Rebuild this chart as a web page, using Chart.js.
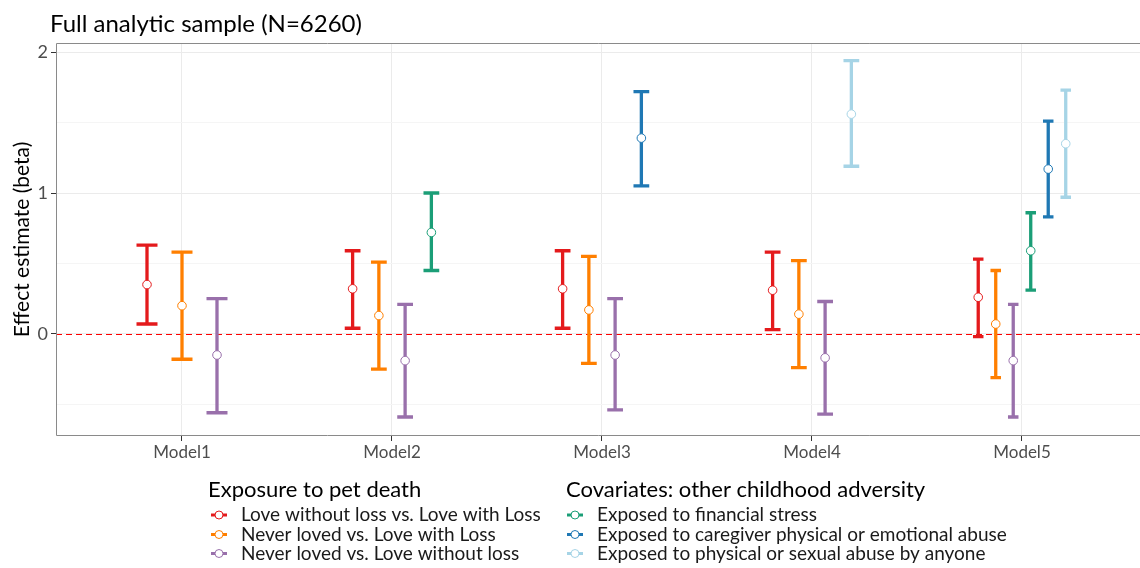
<!DOCTYPE html>
<html>
<head>
<meta charset="utf-8">
<script src="https://cdn.jsdelivr.net/npm/chart.js@4"></script>
<style>
  html, body { margin: 0; padding: 0; background: #fff; overflow: hidden; }
  #wrap { width: 1140px; height: 568px; }
  canvas { display: block; }
</style>
</head>
<body>
<div id="wrap"><canvas id="chart" width="1140" height="568"></canvas></div>
<script>
const models = ["Model1", "Model2", "Model3", "Model4", "Model5"];
const yMajorTicks = [0, 1, 2];
const yMinorTicks = [-0.5, 0.5, 1.5];

// exposure to pet death
const loveNoLossEst = [0.35, 0.32, 0.32, 0.31, 0.26];
const loveNoLossLow = [0.07, 0.04, 0.04, 0.03, -0.02];
const loveNoLossHigh = [0.63, 0.59, 0.59, 0.58, 0.53];
const neverVsLossEst = [0.20, 0.13, 0.17, 0.14, 0.07];
const neverVsLossLow = [-0.18, -0.25, -0.21, -0.24, -0.31];
const neverVsLossHigh = [0.58, 0.51, 0.55, 0.52, 0.45];
const neverVsNoLossEst = [-0.15, -0.19, -0.15, -0.17, -0.19];
const neverVsNoLossLow = [-0.56, -0.59, -0.54, -0.57, -0.59];
const neverVsNoLossHigh = [0.25, 0.21, 0.25, 0.23, 0.21];

// covariates: other childhood adversity
const financialEst = [null, 0.72, null, null, 0.59];
const financialLow = [null, 0.45, null, null, 0.31];
const financialHigh = [null, 1.00, null, null, 0.86];
const caregiverEst = [null, null, 1.39, null, 1.17];
const caregiverLow = [null, null, 1.05, null, 0.83];
const caregiverHigh = [null, null, 1.72, null, 1.51];
const anyoneEst = [null, null, null, 1.56, 1.35];
const anyoneLow = [null, null, null, 1.19, 0.97];
const anyoneHigh = [null, null, null, 1.94, 1.73];

const series = [
  { label: "Love without loss vs. Love with Loss", color: "#E41A1C", group: 0, est: loveNoLossEst, low: loveNoLossLow, high: loveNoLossHigh },
  { label: "Never loved vs. Love with Loss", color: "#FF7F00", group: 0, est: neverVsLossEst, low: neverVsLossLow, high: neverVsLossHigh },
  { label: "Never loved vs. Love without loss", color: "#9970AB", group: 0, est: neverVsNoLossEst, low: neverVsNoLossLow, high: neverVsNoLossHigh },
  { label: "Exposed to financial stress", color: "#1B9E77", group: 1, est: financialEst, low: financialLow, high: financialHigh },
  { label: "Exposed to caregiver physical or emotional abuse", color: "#1F78B4", group: 1, est: caregiverEst, low: caregiverLow, high: caregiverHigh },
  { label: "Exposed to physical or sexual abuse by anyone", color: "#A6D4E6", group: 1, est: anyoneEst, low: anyoneLow, high: anyoneHigh }
];
const groupTitles = ["Exposure to pet death", "Covariates: other childhood adversity"];

// dodge like ggplot: total width 0.5 shared by the series present in each model
const dodgeWidth = 0.5;
const capWidth = 0.3;
series.forEach(s => s.points = []);
models.forEach((m, i) => {
  const present = series.filter(s => s.est[i] !== null);
  const n = present.length;
  present.forEach((s, k) => {
    s.points.push({
      x: i + 1 + (k - (n - 1) / 2) * dodgeWidth / n,
      y: s.est[i], low: s.low[i], high: s.high[i], cap: capWidth / n
    });
  });
});

const FONT = "Lato, 'DejaVu Sans', sans-serif";

const errorBars = {
  id: "errorBars",
  beforeDatasetsDraw(chart) {
    const { ctx, chartArea, scales: { x, y } } = chart;
    ctx.save();
    // dashed reference line at 0
    const y0 = Math.round(y.getPixelForValue(0)) + 0.5;
    ctx.strokeStyle = "#FF0000";
    ctx.lineWidth = 1.1;
    ctx.setLineDash([6, 4]);
    ctx.beginPath();
    ctx.moveTo(chartArea.left, y0);
    ctx.lineTo(chartArea.right, y0);
    ctx.stroke();
    ctx.setLineDash([]);

    chart.data.datasets.forEach(ds => {
      ctx.strokeStyle = ds.borderColor;
      ctx.lineWidth = 3.3;
      ds.data.forEach(p => {
        const px = x.getPixelForValue(p.x);
        const hw = x.getPixelForValue(p.x + p.cap / 2) - px;
        const top = y.getPixelForValue(p.high);
        const bot = y.getPixelForValue(p.low);
        ctx.beginPath();
        ctx.moveTo(px, top); ctx.lineTo(px, bot);
        ctx.moveTo(px - hw, top); ctx.lineTo(px + hw, top);
        ctx.moveTo(px - hw, bot); ctx.lineTo(px + hw, bot);
        ctx.stroke();
      });
    });
    ctx.restore();
  },
  afterDraw(chart) {
    const { ctx, chartArea } = chart;
    ctx.save();
    // panel border (right side is cut off in the original)
    ctx.strokeStyle = "#8a8a8a";
    ctx.lineWidth = 1;
    ctx.beginPath();
    ctx.moveTo(chartArea.right, chartArea.top + 0.5);
    ctx.lineTo(chartArea.left + 0.5, chartArea.top + 0.5);
    ctx.lineTo(chartArea.left + 0.5, chartArea.bottom - 0.5);
    ctx.lineTo(chartArea.right, chartArea.bottom - 0.5);
    ctx.stroke();

    // title
    ctx.fillStyle = "#000";
    ctx.font = "24px " + FONT;
    ctx.textBaseline = "alphabetic";
    ctx.fillText("Full analytic sample (N=6260)", 50, 32);

    // legend, two titled groups
    const groupX = [208, 566];
    const keyX = [219, 575];
    const textX = [241, 597];
    const rowY = [515, 534.5, 553.5];
    groupTitles.forEach((t, g) => {
      ctx.fillStyle = "#000";
      ctx.font = "22px " + FONT;
      ctx.textBaseline = "alphabetic";
      ctx.fillText(t, groupX[g], 497);
      series.filter(s => s.group === g).forEach((s, r) => {
        const kx = keyX[g], ky = rowY[r];
        ctx.strokeStyle = s.color;
        ctx.lineWidth = 3;
        ctx.beginPath();
        ctx.moveTo(kx - 8, ky); ctx.lineTo(kx + 8, ky);
        ctx.stroke();
        ctx.beginPath();
        ctx.arc(kx, ky, 4, 0, Math.PI * 2);
        ctx.fillStyle = "#fff";
        ctx.fill();
        ctx.lineWidth = 1;
        ctx.stroke();
        ctx.fillStyle = "#1a1a1a";
        ctx.font = "19px " + FONT;
        ctx.textBaseline = "middle";
        ctx.fillText(s.label, textX[g], ky);
      });
    });
    ctx.restore();
  }
};

new Chart(document.getElementById("chart"), {
  type: "scatter",
  data: {
    datasets: series.map(s => ({
      label: s.label,
      data: s.points,
      borderColor: s.color,
      backgroundColor: "#fff",
      pointRadius: 4.3,
      pointHoverRadius: 4.3,
      pointBorderWidth: 1
    }))
  },
  options: {
    responsive: false,
    devicePixelRatio: 1,
    animation: false,
    layout: { autoPadding: false, padding: { top: 43, bottom: 98, left: 0, right: 0 } },
    plugins: { legend: { display: false }, tooltip: { enabled: false } },
    scales: {
      x: {
        type: "linear",
        min: 0.4,
        max: 5.562,
        afterBuildTicks: s => { s.ticks = models.map((m, i) => ({ value: i + 1 })); },
        afterFit: s => { s.height = 34; s.paddingLeft = 0; s.paddingRight = 0; },
        ticks: {
          callback: v => models[v - 1],
          font: { family: FONT, size: 17 },
          color: "#4d4d4d",
          padding: 1,
          maxRotation: 0
        },
        grid: { color: "#ebebeb", tickColor: "#333", tickLength: 5 },
        border: { display: false }
      },
      y: {
        min: -0.725,
        max: 2.065,
        afterBuildTicks: s => {
          s.ticks = [...yMinorTicks, ...yMajorTicks].sort((a, b) => a - b).map(v => ({ value: v }));
        },
        afterFit: s => { s.width = 56; },
        ticks: {
          callback: v => (yMajorTicks.includes(v) ? String(v) : ""),
          font: { family: FONT, size: 18 },
          color: "#4d4d4d",
          padding: 3
        },
        grid: {
          color: c => (yMajorTicks.includes(c.tick.value) ? "#ebebeb" : "#f5f5f5"),
          tickColor: c => (yMajorTicks.includes(c.tick.value) ? "#333" : "rgba(0,0,0,0)"),
          tickLength: 5
        },
        border: { display: false },
        title: {
          display: true,
          text: "Effect estimate (beta)",
          font: { family: FONT, size: 21 },
          color: "#000",
          padding: { top: 10, bottom: 0 }
        }
      }
    }
  },
  plugins: [errorBars]
});
</script>
</body>
</html>
